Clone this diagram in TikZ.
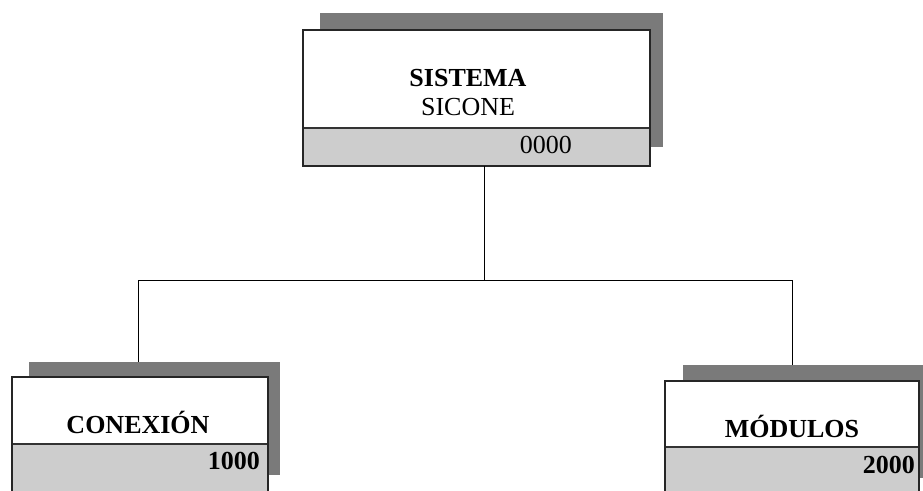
\documentclass[tikz,border=0pt]{standalone}
\usepackage{fontspec}
\setmainfont{Liberation Serif}
\begin{document}
\begin{tikzpicture}[x=1pt,y=-1pt,
  shadowbox/.style={draw=none,fill=shadowgray,inner sep=0pt,anchor=north west},
  mainbox/.style={draw=black!85,line width=1.1pt,fill=white,inner sep=0pt,anchor=north west},
  divider/.style={draw=black!80,line width=1.1pt},
  lowfill/.style={fill=lowgray},
  conn/.style={draw=black,line width=0.8pt},
  title/.style={inner sep=0pt,anchor=base,font=\fontsize{26}{29}\selectfont\bfseries},
  sub/.style={inner sep=0pt,anchor=base,font=\fontsize{26}{29}\selectfont},
  code/.style={inner sep=0pt,anchor=base east}
]
\definecolor{shadowgray}{HTML}{7A7A7A}
\definecolor{lowgray}{HTML}{CDCDCD}
\useasboundingbox (0,0) rectangle (923,490);
\clip (0,0) rectangle (923,490);

% top box
\node[shadowbox,minimum width=343pt,minimum height=134pt] (s0) at (320,13) {};
\node[mainbox,minimum width=346pt,minimum height=135pt] (b0) at (303,30) {};
\fill[lowfill] (303,128) rectangle (649,165);
\draw[divider] (303,128) -- (649,128);
\draw[draw=black!85,line width=1.1pt] (b0.north west) rectangle (b0.south east);
\node[title] (t0) at (468,86) {SISTEMA};
\node[sub] (u0) at (468,115) {SICONE};
\node[code,font=\fontsize{26}{29}\selectfont] (c0) at (572,153) {0000};

% left box
\node[shadowbox,minimum width=251pt,minimum height=113pt] (s1) at (29,362) {};
\node[mainbox,minimum width=255pt,minimum height=130pt] (b1) at (12,377) {};
\fill[lowfill] (12,444) rectangle (267,507);
\draw[divider] (12,444) -- (267,444);
\draw[draw=black!85,line width=1.1pt] (b1.north west) rectangle (b1.south east);
\node[title] (t1) at (138,433) {CONEXIÓN};
\node[code,font=\fontsize{26}{29}\selectfont\bfseries] (c1) at (260,469) {1000};

% right box
\node[shadowbox,minimum width=252pt,minimum height=113pt] (s2) at (683,365) {};
\node[mainbox,minimum width=253pt,minimum height=130pt] (b2) at (665,381) {};
\fill[lowfill] (665,447) rectangle (918,511);
\draw[divider] (665,447) -- (918,447);
\draw[draw=black!85,line width=1.1pt] (b2.north west) rectangle (b2.south east);
\node[title] (t2) at (792,437) {MÓDULOS};
\node[code,font=\fontsize{26}{29}\selectfont\bfseries] (c2) at (915,473) {2000};

% connectors
\coordinate (j0) at (484,280);
\coordinate (jl) at (138,280);
\coordinate (jr) at (792,280);
\draw[conn] (b0.south -| j0) -- (j0);
\draw[conn] (jl) -- (jr);
\draw[conn] (jl) -- (jl |- s1.north);
\draw[conn] (jr) -- (jr |- s2.north);
\end{tikzpicture}
\end{document}
